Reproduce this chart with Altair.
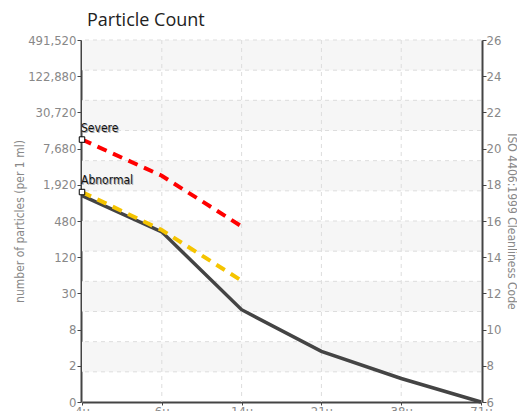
import altair as alt
import pandas as pd

# ---- data ----
sizes = ["4\u00b5", "6\u00b5", "14\u00b5", "21\u00b5", "38\u00b5", "71\u00b5"]
actual = [17.4, 15.4, 11.1, 8.8, 7.3, 6.0]
abnormal = [17.6, 15.5, 12.7]
severe = [20.5, 18.5, 15.7]
iso_ticks = [6, 8, 10, 12, 14, 16, 18, 20, 22, 24, 26]
count_labels = ["0", "2", "8", "30", "120", "480", "1,920", "7,680",
                "30,720", "122,880", "491,520"]
limit_names = ["Severe", "Abnormal"]

# background grid divisions (12 equal parts of the code range)
grid_levels = [6 + k * 20 / 12 for k in range(13)]
band_lo = [grid_levels[k] for k in range(1, 12, 2)]
band_hi = [grid_levels[k + 1] for k in range(1, 12, 2)]

df_actual = pd.DataFrame({"size": sizes, "code": actual})
df_abn = pd.DataFrame({"size": sizes[:len(abnormal)], "code": abnormal})
df_sev = pd.DataFrame({"size": sizes[:len(severe)], "code": severe})
df_marks = pd.DataFrame({"size": [sizes[0], sizes[0]],
                         "code": [severe[0], abnormal[0]],
                         "name": limit_names})
df_grid = pd.DataFrame({"code": grid_levels[1:]})
df_bands = pd.DataFrame({"lo": band_lo, "hi": band_hi})
df_vgrid = pd.DataFrame({"size": sizes[1:-1]})

FONT = "DejaVu Sans Condensed"
xscale = alt.Scale(type="point", domain=sizes, padding=0)
yscale = alt.Scale(domain=[6, 26], nice=False, zero=False)

xaxis = alt.Axis(title=None, grid=False,
                 domainColor="#444444", domainWidth=2, tickColor="#444444",
                 tickSize=3, labelPadding=0, labelColor="#888888",
                 labelFont=FONT, labelFontSize=13, labelAngle=0)

label_expr = "[" + ",".join("'" + s + "'" for s in count_labels) + "][(datum.value-6)/2]"

left_axis = alt.Axis(orient="left", values=iso_ticks, labelExpr=label_expr,
                     title="number of particles (per 1 ml)", titleColor="#888888",
                     titleFont=FONT, titleFontSize=12, titleFontWeight="normal",
                     titlePadding=1, grid=False, offset=1,
                     domainColor="#444444", domainWidth=2, tickColor="#444444",
                     tickSize=4, labelColor="#888888", labelFont=FONT,
                     labelFontSize=13, labelPadding=1)
right_axis = alt.Axis(orient="right", values=iso_ticks, format="d",
                      title="ISO 4406:1999 Cleanliness Code", titleColor="#888888",
                      titleFont=FONT, titleFontSize=12, titleFontWeight="normal",
                      titlePadding=4, grid=False, offset=1,
                      domainColor="#444444", domainWidth=2, tickColor="#444444",
                      tickSize=4, labelColor="#888888", labelFont=FONT,
                      labelFontSize=13, labelPadding=0)

X = alt.X("size:N", sort=sizes, scale=xscale, axis=xaxis)

bands = alt.Chart(df_bands).mark_rect(color="#f6f6f6").encode(
    y=alt.Y("lo:Q", scale=yscale, axis=None), y2="hi:Q")

hgrid = alt.Chart(df_grid).mark_rule(color="#dddddd", strokeDash=[4, 4],
                                     strokeWidth=1).encode(
    y=alt.Y("code:Q", scale=yscale, axis=None))

vgrid = alt.Chart(df_vgrid).mark_rule(color="#dddddd", strokeDash=[4, 4],
                                      strokeWidth=1).encode(x=X)

line_actual = alt.Chart(df_actual).mark_line(color="#444444", strokeWidth=3.5).encode(
    x=X, y=alt.Y("code:Q", scale=yscale, axis=left_axis))

line_abn = alt.Chart(df_abn).mark_line(color="#f5c400", strokeWidth=4,
                                       strokeDash=[10, 7]).encode(
    x=X, y=alt.Y("code:Q", scale=yscale, axis=right_axis))

line_sev = alt.Chart(df_sev).mark_line(color="#ff0000", strokeWidth=4,
                                       strokeDash=[10, 7]).encode(
    x=X, y=alt.Y("code:Q", scale=yscale, axis=None))

markers = alt.Chart(df_marks).mark_point(shape="square", size=30, filled=True,
                                         fill="white", stroke="black",
                                         strokeWidth=1, opacity=1).encode(
    x=X, y=alt.Y("code:Q", scale=yscale, axis=None))

shadow = alt.Chart(df_marks).mark_text(align="left", baseline="bottom", dx=0, dy=-4,
                                       font="DejaVu Sans Condensed", fontSize=12,
                                       color="#aaaaaa").encode(
    x=X, y=alt.Y("code:Q", scale=yscale, axis=None), text="name:N")

labels = alt.Chart(df_marks).mark_text(align="left", baseline="bottom", dx=-1, dy=-5,
                                       font="DejaVu Sans Condensed", fontSize=12,
                                       color="#111111").encode(
    x=X, y=alt.Y("code:Q", scale=yscale, axis=None), text="name:N")

chart = alt.layer(
    bands, hgrid, vgrid, line_actual, line_abn, line_sev, markers, shadow, labels
).resolve_axis(y="independent").properties(
    width=399, height=362,
    title=alt.TitleParams("Particle Count", anchor="start", frame="group", dx=5,
                          offset=4, font="Open Sans", fontSize=18,
                          fontWeight="normal", color="#222222"),
    autosize=alt.AutoSizeParams(type="none"),
    padding={"left": 74, "top": 32, "right": 36, "bottom": 16},
).configure_view(stroke=None)

chart.save("out.html", embed_options={"renderer": "svg", "actions": False})
